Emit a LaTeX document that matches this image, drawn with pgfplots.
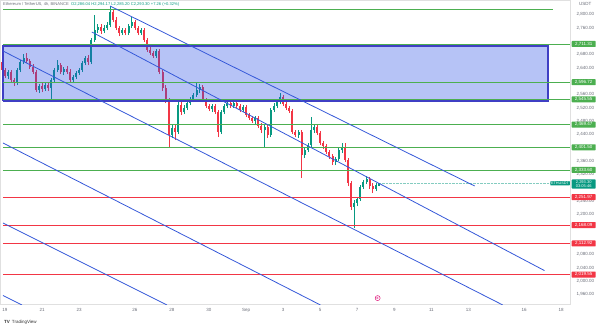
\documentclass[border=0pt]{standalone}
\usepackage{fontspec}
\setmainfont{Liberation Sans}
\usepackage{pgfplots}
\pgfplotsset{compat=1.18}
\usepackage{pgfplotstable}
\definecolor{tvup}{HTML}{089981}
\definecolor{tvdn}{HTML}{F23645}
\definecolor{lvgreen}{HTML}{4CAF50}
\definecolor{lvred}{HTML}{F23645}
\definecolor{tline}{HTML}{3558D8}
\definecolor{rectfill}{HTML}{2950E6}
\definecolor{rectdraw}{HTML}{3F3FC4}
\definecolor{txt}{HTML}{6A6D78}

\pgfplotstableread{
i o h l c
2 2615.3 2633.3 2606.3 2627.3
5 2594.3 2639.3 2588.3 2633.3
6 2633.3 2663.3 2627.3 2657.3
7 2657.3 2681.3 2651.3 2669.3
12 2573.3 2591.3 2564.3 2585.3
14 2576.3 2597.3 2570.3 2588.3
16 2579.3 2609.3 2543.3 2603.3
17 2603.3 2639.3 2597.3 2633.3
18 2633.3 2663.3 2627.3 2648.3
20 2627.3 2642.3 2618.3 2636.3
23 2603.3 2618.3 2594.3 2612.3
24 2612.3 2630.3 2606.3 2624.3
25 2624.3 2639.3 2618.3 2633.3
26 2633.3 2660.3 2627.3 2654.3
27 2654.3 2675.3 2648.3 2669.3
29 2657.3 2729.3 2651.3 2723.3
30 2723.3 2798.3 2717.3 2753.3
31 2753.3 2771.3 2744.3 2762.3
33 2750.3 2768.3 2744.3 2759.3
34 2759.3 2777.3 2753.3 2768.3
35 2768.3 2825.3 2762.3 2807.3
39 2744.3 2759.3 2738.3 2753.3
41 2744.3 2771.3 2738.3 2765.3
42 2765.3 2792.3 2759.3 2777.3
45 2744.3 2759.3 2738.3 2753.3
50 2675.3 2696.3 2669.3 2690.3
55 2438.3 2468.3 2429.3 2459.3
57 2447.3 2537.3 2441.3 2528.3
59 2507.3 2528.3 2501.3 2519.3
60 2519.3 2540.3 2513.3 2534.3
61 2534.3 2552.3 2528.3 2543.3
62 2543.3 2564.3 2537.3 2558.3
63 2558.3 2597.3 2552.3 2573.3
64 2573.3 2591.3 2564.3 2582.3
68 2516.3 2531.3 2507.3 2525.3
71 2447.3 2513.3 2441.3 2507.3
72 2507.3 2531.3 2501.3 2525.3
73 2525.3 2540.3 2519.3 2534.3
75 2525.3 2543.3 2519.3 2534.3
78 2513.3 2528.3 2507.3 2522.3
82 2480.3 2495.3 2471.3 2489.3
85 2453.3 2468.3 2402.3 2462.3
87 2438.3 2519.3 2432.3 2513.3
88 2513.3 2534.3 2507.3 2525.3
89 2525.3 2543.3 2519.3 2537.3
90 2537.3 2564.3 2531.3 2552.3
96 2438.3 2453.3 2429.3 2447.3
98 2378.3 2402.3 2369.3 2393.3
99 2393.3 2414.3 2387.3 2408.3
100 2408.3 2492.3 2402.3 2453.3
101 2453.3 2471.3 2444.3 2462.3
108 2357.3 2372.3 2348.3 2366.3
109 2366.3 2399.3 2360.3 2393.3
110 2393.3 2414.3 2384.3 2402.3
114 2222.3 2243.3 2159.3 2234.3
115 2234.3 2252.3 2225.3 2246.3
116 2246.3 2288.3 2240.3 2282.3
117 2282.3 2303.3 2276.3 2297.3
118 2297.3 2315.3 2291.3 2306.3
121 2276.3 2294.3 2270.3 2288.3
122 2286.04 2294.17 2285.20 2293.30
}\up

\pgfplotstableread{
i o h l c
0 2657.3 2666.3 2627.3 2633.3
1 2633.3 2639.3 2609.3 2615.3
3 2627.3 2633.3 2594.3 2603.3
4 2603.3 2609.3 2585.3 2594.3
8 2669.3 2684.3 2654.3 2660.3
9 2660.3 2666.3 2636.3 2642.3
10 2642.3 2651.3 2621.3 2627.3
11 2627.3 2633.3 2567.3 2573.3
13 2585.3 2594.3 2567.3 2576.3
15 2588.3 2594.3 2570.3 2579.3
19 2648.3 2654.3 2621.3 2627.3
21 2636.3 2645.3 2621.3 2627.3
22 2627.3 2636.3 2597.3 2603.3
28 2669.3 2678.3 2648.3 2657.3
32 2762.3 2771.3 2741.3 2750.3
36 2807.3 2816.3 2777.3 2783.3
37 2783.3 2792.3 2753.3 2759.3
38 2759.3 2765.3 2735.3 2744.3
40 2753.3 2759.3 2738.3 2744.3
43 2777.3 2783.3 2753.3 2759.3
44 2759.3 2765.3 2738.3 2744.3
46 2753.3 2759.3 2717.3 2723.3
47 2723.3 2729.3 2687.3 2693.3
48 2693.3 2702.3 2678.3 2684.3
49 2684.3 2690.3 2669.3 2675.3
51 2690.3 2696.3 2621.3 2627.3
52 2627.3 2633.3 2570.3 2579.3
53 2579.3 2588.3 2534.3 2543.3
54 2543.3 2549.3 2402.3 2438.3
56 2459.3 2468.3 2423.3 2447.3
58 2528.3 2537.3 2498.3 2507.3
65 2582.3 2588.3 2537.3 2543.3
66 2543.3 2549.3 2519.3 2525.3
67 2525.3 2531.3 2510.3 2516.3
69 2525.3 2531.3 2501.3 2507.3
70 2507.3 2513.3 2432.3 2447.3
74 2534.3 2540.3 2519.3 2525.3
76 2534.3 2540.3 2519.3 2525.3
77 2525.3 2531.3 2507.3 2513.3
79 2522.3 2528.3 2492.3 2498.3
80 2498.3 2504.3 2483.3 2489.3
81 2489.3 2495.3 2474.3 2480.3
83 2489.3 2495.3 2459.3 2465.3
84 2465.3 2474.3 2444.3 2453.3
86 2462.3 2468.3 2429.3 2438.3
91 2552.3 2558.3 2525.3 2531.3
92 2531.3 2537.3 2513.3 2519.3
93 2519.3 2525.3 2504.3 2510.3
94 2510.3 2516.3 2441.3 2447.3
95 2447.3 2453.3 2432.3 2438.3
97 2447.3 2453.3 2309.3 2378.3
102 2462.3 2468.3 2438.3 2444.3
103 2444.3 2450.3 2408.3 2414.3
104 2414.3 2420.3 2396.3 2405.3
105 2405.3 2411.3 2381.3 2387.3
106 2387.3 2393.3 2366.3 2375.3
107 2375.3 2381.3 2348.3 2357.3
111 2402.3 2414.3 2357.3 2363.3
112 2363.3 2369.3 2285.3 2294.3
113 2294.3 2300.3 2213.3 2222.3
119 2306.3 2312.3 2276.3 2285.3
120 2285.3 2294.3 2264.3 2276.3
}\dn

\newcommand{\fs}{\fontsize{4.5}{5}\selectfont}
\tikzset{lbl/.style={anchor=west, text=white, font=\fs, inner sep=0.8pt, minimum width=24pt, minimum height=6pt, xshift=1.5pt, rounded corners=0.6pt}}

\begin{document}
\begin{tikzpicture}
\useasboundingbox (0,0) rectangle (600pt,327pt);
\begin{axis}[
  at={(0pt,23pt)}, anchor=south west,
  scale only axis, width=570pt, height=304pt,
  xmin=-0.61, xmax=183.85, ymin=1931.3, ymax=2843.3,
  clip mode=individual,
  axis line style={draw=black!12, line width=0.4pt},
  tick style={draw=none},
  xtick={1,13,25,43,55,67,79,91,103,115,127,139,151,169,181},
  xticklabels={19,21,23,26,28,30,Sep,3,5,7,9,11,13,16,18},
  ytick={1960,2000,2040,2080,2200,2240,2320,2360,2440,2480,2520,2560,2640,2680,2760,2800},
  yticklabels={{1,960.00},{2,000.00},{2,040.00},{2,080.00},{2,200.00},{2,240.00},{2,320.00},{2,360.00},{2,440.00},{2,480.00},{2,520.00},{2,560.00},{2,640.00},{2,680.00},{2,760.00},{2,800.00}},
  yticklabel pos=right,
  ticklabel style={font=\fs, text=txt},
  yticklabel style={xshift=3pt},
  xticklabel style={yshift=-0.5pt},
]
% wicks
\addplot[color=tvup, draw=none, mark=none, error bars/.cd, y dir=plus, y explicit, error mark=none,
  error bar style={draw=tvup, line width=0.5pt}]
  table[x=i, y=l, y error plus expr=\thisrow{h}-\thisrow{l}] {\up};
\addplot[color=tvdn, draw=none, mark=none, error bars/.cd, y dir=plus, y explicit, error mark=none,
  error bar style={draw=tvdn, line width=0.5pt}]
  table[x=i, y=l, y error plus expr=\thisrow{h}-\thisrow{l}] {\dn};
% bodies
\addplot[color=tvup, draw=none, mark=none, error bars/.cd, y dir=both, y explicit, error mark=none,
  error bar style={draw=tvup, line width=2pt}]
  table[x=i, y expr=(\thisrow{o}+\thisrow{c})/2, y error expr=abs(\thisrow{c}-\thisrow{o})/2] {\up};
\addplot[color=tvdn, draw=none, mark=none, error bars/.cd, y dir=both, y explicit, error mark=none,
  error bar style={draw=tvdn, line width=2pt}]
  table[x=i, y expr=(\thisrow{o}+\thisrow{c})/2, y error expr=abs(\thisrow{c}-\thisrow{o})/2] {\dn};

% zone rectangle
\addplot[fill=rectfill, fill opacity=0.34, draw=rectdraw, draw opacity=1, line width=1.3pt]
  coordinates {(0.36,2540.3) (176.7,2540.3) (176.7,2705.3) (0.36,2705.3) (0.36,2540.3)};

% horizontal levels
\addplot[lvgreen, line width=0.8pt] coordinates {(0.36,2816) (178.3,2816)};
\addplot[lvgreen, line width=0.8pt] coordinates {(0.36,2711.31) (183.85,2711.31)};
\addplot[lvgreen, line width=0.8pt] coordinates {(0.36,2596.72) (183.85,2596.72)};
\addplot[lvgreen, line width=0.8pt] coordinates {(0.36,2545.55) (183.85,2545.55)};
\addplot[lvgreen, line width=0.8pt] coordinates {(0.36,2469.47) (183.85,2469.47)};
\addplot[lvgreen, line width=0.8pt] coordinates {(0.36,2401.50) (183.85,2401.50)};
\addplot[lvgreen, line width=0.8pt] coordinates {(0.36,2333.60) (183.85,2333.60)};
\addplot[lvred, line width=0.8pt] coordinates {(0.36,2251.97) (183.85,2251.97)};
\addplot[lvred, line width=0.8pt] coordinates {(0.36,2168.09) (183.85,2168.09)};
\addplot[lvred, line width=0.8pt] coordinates {(0.36,2112.92) (183.85,2112.92)};
\addplot[lvred, line width=0.8pt] coordinates {(0.36,2019.55) (183.85,2019.55)};
% current price line
\addplot[tvup!50, line width=0.4pt, densely dotted] coordinates {(122,2293.3) (183.85,2293.3)};

% trend lines
\addplot[tline, line width=0.8pt] coordinates {(35,2825.3) (153.0,2285.3)};
\addplot[tline, line width=0.8pt] coordinates {(0.36,2690.3) (162.1,1928.3)};
\addplot[tline, line width=0.8pt] coordinates {(29.1,2747.3) (175.6,2031.5)};
\addplot[tline, line width=0.8pt] coordinates {(0.36,2414.3) (103.1,1928.3)};
\addplot[tline, line width=0.8pt] coordinates {(0.36,2174.3) (53.4,1928.3)};
\addplot[tline, line width=0.8pt] coordinates {(0.36,1956.8) (6.5,1928.3)};

% level labels
\node[lbl, fill=lvgreen] at (axis cs:183.85,2711.31) {2,711.31};
\node[lbl, fill=lvgreen] at (axis cs:183.85,2596.72) {2,596.72};
\node[lbl, fill=lvgreen] at (axis cs:183.85,2545.55) {2,545.55};
\node[lbl, fill=lvgreen] at (axis cs:183.85,2469.47) {2,469.47};
\node[lbl, fill=lvgreen] at (axis cs:183.85,2401.50) {2,401.50};
\node[lbl, fill=lvgreen] at (axis cs:183.85,2333.60) {2,333.60};
\node[lbl, fill=lvred] at (axis cs:183.85,2251.97) {2,251.97};
\node[lbl, fill=lvred] at (axis cs:183.85,2168.09) {2,168.09};
\node[lbl, fill=lvred] at (axis cs:183.85,2112.92) {2,112.92};
\node[lbl, fill=lvred] at (axis cs:183.85,2019.55) {2,019.55};
\node[lbl, fill=tvup, align=center, font=\fontsize{4}{4.6}\selectfont] at (axis cs:183.85,2291.3) {2,293.30\\03:05:46};
\node[anchor=east, fill=tvup, text=white, font=\fontsize{3.8}{4.5}\selectfont, inner sep=0.8pt, rounded corners=0.6pt] at (axis cs:183.85,2293.3) {ETHUSDT};

% header
\node[anchor=north west, font=\fontsize{4.1}{5}\selectfont, text=txt, inner sep=0pt, xshift=3pt, yshift=-2pt] at (rel axis cs:0,1)
  {Ethereum / TetherUS, 4h, BINANCE\ \ \textcolor{tvup}{O2,286.04 H2,294.17 L2,285.20 C2,293.30 +7.26 (+0.32\%)}};
\node[anchor=north west, font=\fs, text=txt, inner sep=0pt, xshift=9pt, yshift=-2pt] at (rel axis cs:1,1) {USDT};
% event icon
\node[circle, draw=magenta!70!purple, line width=0.5pt, minimum size=5pt, inner sep=0pt, text=magenta!70!purple, font=\fontsize{3}{3}\selectfont] at (axis cs:121.6,1949) {\textbf{E}};
\end{axis}
\node[anchor=west, font=\fontsize{4.5}{5}\selectfont, text=black!80, inner sep=0pt] at (4pt,5pt) {\textbf{TV}\, TradingView};
\end{tikzpicture}
\end{document}
